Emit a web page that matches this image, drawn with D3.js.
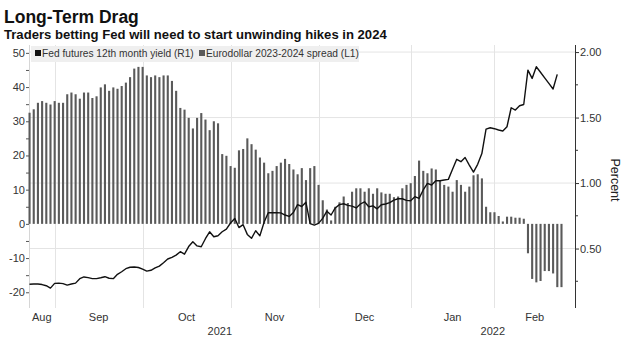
<!DOCTYPE html>
<html><head><meta charset="utf-8">
<script src="https://cdn.jsdelivr.net/npm/d3@7"></script>
<style>body{margin:0;background:#fff}svg{display:block}</style>
</head><body><svg id="c" width="625" height="337"></svg>
<script>
// Trading days (categories)
const dates = [
"2021-08-24","2021-08-25","2021-08-26","2021-08-27","2021-08-30","2021-08-31",
"2021-09-01","2021-09-02","2021-09-03","2021-09-07","2021-09-08","2021-09-09","2021-09-10","2021-09-13","2021-09-14","2021-09-15","2021-09-16","2021-09-17","2021-09-20","2021-09-21","2021-09-22","2021-09-23","2021-09-24","2021-09-27","2021-09-28","2021-09-29","2021-09-30",
"2021-10-01","2021-10-04","2021-10-05","2021-10-06","2021-10-07","2021-10-08","2021-10-11","2021-10-12","2021-10-13","2021-10-14","2021-10-15","2021-10-18","2021-10-19","2021-10-20","2021-10-21","2021-10-22","2021-10-25","2021-10-26","2021-10-27","2021-10-28","2021-10-29",
"2021-11-01","2021-11-02","2021-11-03","2021-11-04","2021-11-05","2021-11-08","2021-11-09","2021-11-10","2021-11-11","2021-11-12","2021-11-15","2021-11-16","2021-11-17","2021-11-18","2021-11-19","2021-11-22","2021-11-23","2021-11-24","2021-11-26","2021-11-29","2021-11-30",
"2021-12-01","2021-12-02","2021-12-03","2021-12-06","2021-12-07","2021-12-08","2021-12-09","2021-12-10","2021-12-13","2021-12-14","2021-12-15","2021-12-16","2021-12-17","2021-12-20","2021-12-21","2021-12-22","2021-12-23","2021-12-27","2021-12-28","2021-12-29","2021-12-30","2021-12-31",
"2022-01-03","2022-01-04","2022-01-05","2022-01-06","2022-01-07","2022-01-10","2022-01-11","2022-01-12","2022-01-13","2022-01-14","2022-01-18","2022-01-19","2022-01-20","2022-01-21","2022-01-24","2022-01-25","2022-01-26","2022-01-27","2022-01-28","2022-01-31",
"2022-02-01","2022-02-02","2022-02-03","2022-02-04","2022-02-07","2022-02-08","2022-02-09","2022-02-10","2022-02-11","2022-02-14","2022-02-15","2022-02-16","2022-02-17","2022-02-18","2022-02-22","2022-02-23","2022-02-24"
];

// Eurodollar 2023-2024 spread (bp, left axis)
const spread = [
32.5,33.5,35.4,35.9,35.4,34.9,35.9,35.4,35.4,37.9,
38.4,37.9,36.6,38.4,38.4,36.8,37.3,39.9,40.8,38.9,
39.9,39.5,40.3,41.3,42.9,45.4,45.9,45.9,43.4,42.9,
43.4,42.9,43.4,43.4,41.8,38.9,33.9,33.4,31.0,27.9,
31.0,32.4,30.5,27.4,30.0,29.4,20.4,19.9,16.9,16.4,
21.5,21.9,25.0,23.3,21.7,19.4,17.9,14.8,15.5,16.9,
17.9,19.0,17.5,15.9,14.5,16.3,12.8,16.3,16.9,11.4,
6.9,4.2,1.0,5.0,6.3,8.0,6.1,9.4,10.4,10.4,
9.4,10.4,8.8,10.4,9.2,8.8,8.8,7.8,8.0,10.4,
11.4,11.9,14.0,18.5,15.5,14.8,16.2,15.9,12.8,11.4,
10.9,9.4,12.8,11.4,9.4,10.9,14.2,14.5,13.3,5.0,
3.4,3.4,2.3,0.7,2.1,2.1,1.8,1.8,1.5,-8.6,
-16.1,-17.1,-16.7,-13.8,-13.8,-14.5,-18.5,-18.5
];

// Fed futures 12th month yield (%, right axis)
const fedYield = [
0.227,0.229,0.229,0.225,0.216,0.198,0.234,0.236,0.232,0.221,
0.229,0.236,0.270,0.283,0.278,0.270,0.270,0.277,0.285,0.273,
0.270,0.303,0.323,0.346,0.357,0.359,0.355,0.343,0.328,0.334,
0.352,0.366,0.392,0.420,0.433,0.450,0.476,0.457,0.515,0.552,
0.520,0.514,0.575,0.628,0.590,0.598,0.628,0.648,0.695,0.730,
0.660,0.682,0.608,0.578,0.636,0.597,0.700,0.773,0.773,0.774,
0.772,0.756,0.745,0.775,0.835,0.821,0.853,0.690,0.679,0.692,
0.730,0.785,0.756,0.810,0.835,0.842,0.830,0.824,0.810,0.840,
0.857,0.819,0.826,0.803,0.834,0.840,0.850,0.870,0.880,0.880,
0.868,0.865,0.896,0.883,0.947,0.997,0.985,1.018,1.018,1.023,
1.028,1.105,1.181,1.163,1.195,1.137,1.084,1.143,1.225,1.412,
1.422,1.415,1.405,1.397,1.430,1.575,1.557,1.590,1.600,1.862,
1.799,1.888,1.846,1.803,1.761,1.718,1.830
];

const leftTicks = [-20,-10,0,10,20,30,40,50];
const leftMinor = [-20,-15,-10,-5,0,5,10,15,20,25,30,35,40,45,50];
const rightTicks = [0.5,1.0,1.5,2.0];
const rightMinor = [0.25,0.75,1.25,1.75];
const monthNames = ["Jan","Feb","Mar","Apr","May","Jun","Jul","Aug","Sep","Oct","Nov","Dec"];
const legendLabels = ["Fed futures 12th month yield (R1)","Eurodollar 2023-2024 spread (L1)"];

const svg = d3.select("#c");
const FONT = "'Liberation Sans', Arial, sans-serif";
const L = 29, R = 575, T = 45, B = 308;

const x = d3.scaleLinear().domain([0, 130]).range([29.5, 574]);
const yL = d3.scaleLinear().domain([-24.6, 52.3]).range([B, T]);
const yR = d3.scaleLinear().domain([0.046, 2.054]).range([B, T]);

const parsed = dates.map(d => d3.utcParse("%Y-%m-%d")(d));
// month starts
const starts = [];
parsed.forEach((d, i) => { if (i > 0 && d.getUTCMonth() !== parsed[i-1].getUTCMonth()) starts.push(i); });

// gridlines horizontal (right axis)
svg.append("g").selectAll("line").data(rightTicks).join("line")
  .attr("x1", L).attr("x2", R).attr("y1", d => yR(d)).attr("y2", d => yR(d))
  .attr("stroke", "#e4e4e4").attr("stroke-width", 1);
// vertical month gridlines
svg.append("g").selectAll("line").data(starts).join("line")
  .attr("x1", i => Math.round(x(i)) + 0.5).attr("x2", i => Math.round(x(i)) + 0.5)
  .attr("y1", T).attr("y2", B)
  .attr("stroke", "#e4e4e4").attr("stroke-width", 1);
// left edge line
svg.append("line").attr("x1", L + 0.5).attr("x2", L + 0.5).attr("y1", T).attr("y2", B)
  .attr("stroke", "#d6d6d6");

// bars
svg.append("g").selectAll("rect").data(spread).join("rect")
  .attr("x", (d, i) => x(i) - 1)
  .attr("width", 2.1)
  .attr("y", d => Math.min(yL(0), yL(d)))
  .attr("height", d => Math.abs(yL(d) - yL(0)))
  .attr("fill", "#5a5a5a");

// line
svg.append("path").datum(fedYield)
  .attr("d", d3.line().x((d, i) => x(i)).y(d => yR(d)))
  .attr("fill", "none").attr("stroke", "#111").attr("stroke-width", 1.4)
  .attr("stroke-linejoin", "round");

// left axis
const gl = svg.append("g").attr("transform", `translate(${L},0)`);
gl.call(d3.axisLeft(yL).tickValues(leftMinor).tickSize(3).tickFormat(d => leftTicks.includes(d) ? d : ""));
gl.select(".domain").remove();
gl.selectAll(".tick line").attr("stroke", "#555");
gl.selectAll("text").attr("font-family", FONT).attr("font-size", 11).attr("fill", "#333").attr("x", -4);

// right axis
const gr = svg.append("g").attr("transform", `translate(${R},0)`);
gr.call(d3.axisRight(yR).tickValues(rightTicks).tickSize(4).tickFormat(d3.format(".2f")));
gr.select(".domain").attr("d", `M0.5,${T}V${B}`).attr("stroke", "#333");
gr.selectAll(".tick line").attr("stroke", "#333").attr("x1", 0.5);
gr.selectAll("text").attr("font-family", FONT).attr("font-size", 11).attr("fill", "#333").attr("x", 5);
gr.append("g").selectAll("line").data(rightMinor).join("line")
  .attr("x1", 0.5).attr("x2", 3).attr("y1", d => yR(d)).attr("y2", d => yR(d)).attr("stroke", "#333");

svg.append("text").attr("transform", "translate(611,180) rotate(90)")
  .attr("text-anchor", "middle").attr("font-family", FONT).attr("font-size", 12.5)
  .attr("fill", "#222").text("Percent");

// month labels
const edges = [L, ...starts.map(i => x(i)), R];
const monthIdx = [0, ...starts];
svg.append("g").selectAll("text").data(monthIdx).join("text")
  .attr("x", (d, k) => (edges[k] + edges[k+1]) / 2)
  .attr("y", 321).attr("text-anchor", "middle")
  .attr("font-family", FONT).attr("font-size", 11).attr("fill", "#333")
  .text(i => monthNames[parsed[i].getUTCMonth()]);

// year labels
const yearStart = starts.find(i => parsed[i].getUTCFullYear() === 2022);
const years = [
  {t: String(parsed[0].getUTCFullYear()), a: L, b: x(yearStart)},
  {t: String(parsed[yearStart].getUTCFullYear()), a: x(yearStart), b: R}
];
svg.append("g").selectAll("text").data(years).join("text")
  .attr("x", d => (d.a + d.b) / 2).attr("y", 335).attr("text-anchor", "middle")
  .attr("font-family", FONT).attr("font-size", 11).attr("fill", "#333")
  .text(d => d.t);

// legend
svg.append("rect").attr("x", 31).attr("y", 46).attr("width", 328).attr("height", 16).attr("fill", "#efefef");
const leg = svg.append("g").attr("font-family", FONT).attr("font-size", 10.2).attr("fill", "#333");
leg.append("rect").attr("x", 35).attr("y", 50).attr("width", 6).attr("height", 6).attr("fill", "#111");
leg.append("text").attr("x", 42).attr("y", 57).text(legendLabels[0]);
leg.append("rect").attr("x", 199).attr("y", 50).attr("width", 6).attr("height", 6).attr("fill", "#5a5a5a");
leg.append("text").attr("x", 206).attr("y", 57).text(legendLabels[1]);

// titles
svg.append("text").attr("x", 4).attr("y", 23).attr("font-family", FONT).attr("font-weight", "bold")
  .attr("font-size", 17.5).attr("fill", "#111").text("Long-Term Drag");
svg.append("text").attr("x", 4).attr("y", 38.5).attr("font-family", FONT).attr("font-weight", "bold")
  .attr("font-size", 13.1).attr("fill", "#111").text("Traders betting Fed will need to start unwinding hikes in 2024");
</script>
</body></html>
